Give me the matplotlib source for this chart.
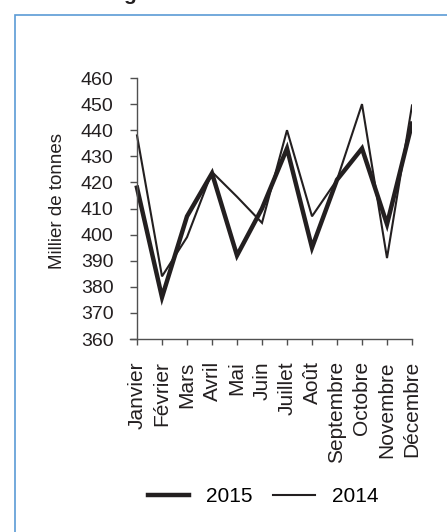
import matplotlib
matplotlib.use('Agg')
import matplotlib.pyplot as plt
from matplotlib.patches import Rectangle

plt.rcParams['font.family'] = ['Liberation Sans', 'DejaVu Sans']

months = ['Janvier', 'Février', 'Mars', 'Avril', 'Mai', 'Juin', 'Juillet',
          'Août', 'Septembre', 'Octobre', 'Novembre', 'Décembre']
values_2015 = [418, 376, 407, 423.5, 392, 410, 433, 395, 421, 433, 404, 442.5]
values_2014 = [438, 384, 399, 424, 414.5, 404.5, 440, 407, 421, 450, 391, 449.5]
yticks = [360, 370, 380, 390, 400, 410, 420, 430, 440, 450, 460]

INK = '#231f20'
AXIS = '#505050'
FRAME = '#5b9bd5'

fig = plt.figure(figsize=(4.47, 5.32), dpi=100)

# blue frame (only top and left edges visible)
fig.patches.append(Rectangle((15 / 447, -0.1), 1.2, 1 - 15 / 532 + 0.1,
                             transform=fig.transFigure, fill=False,
                             edgecolor=FRAME, linewidth=1.2))

# cropped title
fig.text(123 / 447, 1.0, 'g', fontsize=15, fontweight='bold', color=INK,
         ha='left', va='baseline')

ax = fig.add_axes([130 / 447, 1 - 339 / 532, 282 / 447, 261 / 532])
x = list(range(len(months)))
line15, = ax.plot(x, values_2015, color=INK, linewidth=3.2, solid_joinstyle='miter')
line14, = ax.plot(x, values_2014, color=INK, linewidth=1.5, solid_joinstyle='miter')

ax.set_xlim(-0.28, 11)
ax.set_ylim(360, 460)
ax.spines['left'].set_position(('data', 0))
ax.spines['top'].set_visible(False)
ax.spines['right'].set_visible(False)
for s in ('left', 'bottom'):
    ax.spines[s].set_color(AXIS)
    ax.spines[s].set_linewidth(1.0)

ax.set_yticks(yticks)
ax.set_yticklabels([str(v) for v in yticks])
ax.set_xticks(x)
ax.set_xticklabels(months, rotation=90)
ax.tick_params(axis='y', direction='out', length=5, width=1, color=AXIS,
               labelsize=14, labelcolor=INK, pad=12)
ax.tick_params(axis='x', direction='out', length=4, width=1, color=AXIS,
               labelsize=15, labelcolor=INK, pad=12)

fig.text(57 / 447, 1 - 201 / 532, 'Millier de tonnes', rotation=90,
         fontsize=13.5, color=INK, ha='center', va='center')

fig.legend([line15, line14], ['2015', '2014'], ncol=2, frameon=False,
           loc='center', bbox_to_anchor=(263 / 447, 1 - 497 / 532),
           fontsize=15, handlelength=2.0, handletextpad=0.8, columnspacing=1.0)

fig.savefig('out.png', dpi=100)
